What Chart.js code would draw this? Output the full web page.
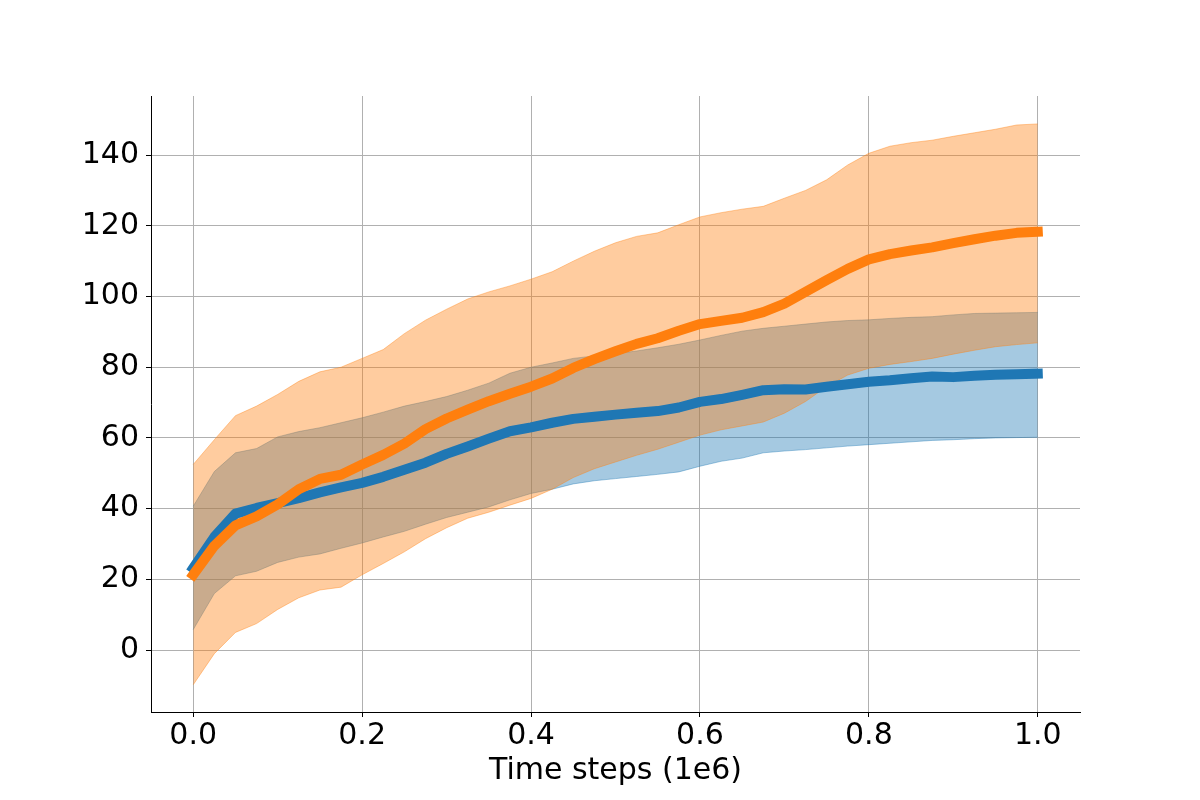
<!DOCTYPE html>
<html>
<head>
<meta charset="utf-8">
<script src="https://cdn.jsdelivr.net/npm/chart.js@4.4.1/dist/chart.umd.min.js"></script>
<style>
  html, body { margin: 0; padding: 0; background: #fff; }
  #wrap { width: 1200px; height: 800px; }
</style>
</head>
<body>
<div id="wrap"><canvas id="myChart" width="1200" height="800"></canvas></div>
<script>
// time steps (in 1e6)
const steps = [0, 0.025, 0.05, 0.075, 0.1, 0.125, 0.15, 0.175, 0.2, 0.225,
	0.25, 0.275, 0.3, 0.325, 0.35, 0.375, 0.4, 0.425, 0.45, 0.475,
	0.5, 0.525, 0.55, 0.575, 0.6, 0.625, 0.65, 0.675, 0.7, 0.725,
	0.75, 0.775, 0.8, 0.825, 0.85, 0.875, 0.9, 0.925, 0.95, 0.975, 1.0];

// blue run
const blueMean = [23.2, 32, 38.6, 40.2, 41.6, 43, 44.6, 46, 47.3, 49,
	51, 53, 55.5, 57.6, 59.8, 61.9, 63, 64.3, 65.4, 66,
	66.6, 67.1, 67.6, 68.6, 70.2, 71, 72.2, 73.5, 73.8, 73.7,
	74.5, 75.2, 75.9, 76.3, 76.9, 77.4, 77.2, 77.6, 77.9, 78, 78.2];
const blueHigh = [40.7, 50.5, 55.8, 57, 60.3, 61.8, 62.9, 64.3, 65.7, 67.3,
	69, 70.3, 71.7, 73.5, 75.5, 78.3, 80, 81.2, 82.5, 83.2,
	83.8, 84.6, 85.5, 86.5, 87.7, 89, 90.2, 91, 91.6, 92.2,
	92.8, 93.2, 93.4, 93.8, 94.1, 94.3, 94.8, 95.2, 95.3, 95.4, 95.5];
const blueLow = [5.8, 16, 21, 22.3, 24.8, 26.3, 27.2, 28.8, 30.3, 32,
	33.6, 35.6, 37.5, 39, 40.5, 42.5, 44.3, 45.5, 47, 47.9,
	48.5, 49.1, 49.7, 50.4, 52, 53.4, 54.3, 55.8, 56.3, 56.7,
	57.2, 57.7, 58.1, 58.5, 58.9, 59.3, 59.5, 59.8, 60, 60.1, 60.2];

// orange run
const orangeMean = [21.3, 29.5, 35.3, 37.8, 41.2, 45.5, 48.4, 49.6, 52.5, 55.2,
	58.4, 62.5, 65.5, 68, 70.4, 72.5, 74.5, 76.8, 79.8, 82.3,
	84.5, 86.6, 88.2, 90.3, 92.2, 93.1, 94, 95.6, 98, 101.3,
	104.6, 107.8, 110.5, 112, 113, 113.9, 115.1, 116.2, 117.2, 118, 118.3];
const orangeHigh = [52.5, 59.5, 66.3, 69, 72.3, 76, 78.7, 80, 82.5, 85,
	89.5, 93.3, 96.4, 99.3, 101.3, 103, 104.9, 107, 110, 112.8,
	115.2, 117, 118, 120.3, 122.5, 123.7, 124.7, 125.5, 127.8, 130,
	133, 137.2, 140.5, 142.5, 143.5, 144.2, 145.3, 146.3, 147.3, 148.5, 148.8];
const orangeLow = [-9.8, -1, 5, 7.5, 11.5, 14.8, 17, 17.8, 21.3, 24.5,
	27.8, 31.5, 34.6, 37.3, 39, 41, 42.9, 45.5, 48.8, 51.3,
	53.2, 55.1, 56.8, 58.8, 60.8, 62.3, 63.4, 64.5, 67, 70.3,
	74.5, 77.8, 79.7, 80.8, 81.6, 82.5, 83.7, 84.8, 85.8, 86.4, 86.9];

const xTicks = [0, 0.2, 0.4, 0.6, 0.8, 1.0];
const yTicks = [0, 20, 40, 60, 80, 100, 120, 140];

const BLUE = '#1f77b4';
const ORANGE = '#ff7f0e';
const BLUE_A = 'rgba(31, 119, 180, 0.4)';
const ORANGE_A = 'rgba(255, 127, 14, 0.4)';

function pts(arr) {
	return steps.map((x, i) => ({ x: x, y: arr[i] }));
}

function band(arr, color, fillTo, order) {
	return {
		data: pts(arr),
		borderColor: color,
		backgroundColor: color,
		borderWidth: 1,
		pointRadius: 0,
		fill: fillTo,
		order: order
	};
}

function line(arr, color, order) {
	return {
		data: pts(arr),
		borderColor: color,
		borderWidth: 10,
		borderCapStyle: 'square',
		borderJoinStyle: 'round',
		pointRadius: 0,
		fill: false,
		order: order
	};
}

const tickFont = { family: 'DejaVu Sans', size: 30 };

document.addEventListener('DOMContentLoaded', function () {
	const ctx = document.getElementById('myChart').getContext('2d');

	new Chart(ctx, {
		type: 'line',
		data: {
			datasets: [
				band(blueHigh, BLUE_A, 1, 3),
				band(blueLow, BLUE_A, false, 3),
				band(orangeHigh, ORANGE_A, 3, 2),
				band(orangeLow, ORANGE_A, false, 2),
				line(blueMean, BLUE, 1),
				line(orangeMean, ORANGE, 0)
			]
		},
		options: {
			responsive: false,
			animation: false,
			devicePixelRatio: 1,
			layout: { padding: { left: 0, right: 120, top: 96, bottom: 0 } },
			plugins: {
				legend: { display: false },
				tooltip: { enabled: false }
			},
			scales: {
				x: {
					type: 'linear',
					min: -0.05,
					max: 1.05,
					afterBuildTicks: function (scale) {
						scale.ticks = xTicks.map(v => ({ value: v }));
					},
					afterFit: function (scale) { scale.height = 88; },
					ticks: {
						font: tickFont,
						color: '#000',
						padding: 1,
						maxRotation: 0,
						autoSkip: false,
						callback: v => Number(v).toFixed(1)
					},
					grid: {
						color: '#b0b0b0',
						lineWidth: 1,
						tickColor: '#000',
						tickLength: 5
					},
					border: { display: true, color: '#000', width: 1 },
					title: {
						display: true,
						text: 'Time steps (1e6)',
						color: '#000',
						font: tickFont,
						padding: { top: 0, bottom: 11 }
					}
				},
				y: {
					type: 'linear',
					min: -17.5,
					max: 156.7,
					afterBuildTicks: function (scale) {
						scale.ticks = yTicks.map(v => ({ value: v }));
					},
					afterFit: function (scale) { scale.width = 151; },
					ticks: {
						font: tickFont,
						color: '#000',
						padding: 7,
						autoSkip: false
					},
					grid: {
						color: '#b0b0b0',
						lineWidth: 1,
						tickColor: '#000',
						tickLength: 5
					},
					border: { display: true, color: '#000', width: 1 }
				}
			}
		}
	});
});
</script>
</body>
</html>
